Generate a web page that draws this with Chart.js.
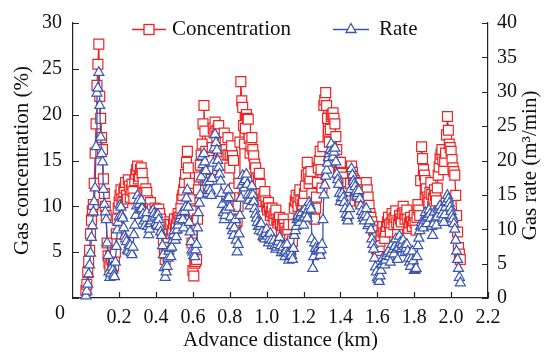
<!DOCTYPE html>
<html>
<head>
<meta charset="utf-8">
<script src="https://cdn.jsdelivr.net/npm/chart.js@4.4.1/dist/chart.umd.min.js"></script>
<style>
  html, body { margin: 0; padding: 0; background: #fff; }
  #wrap { width: 549px; height: 353px; }
</style>
</head>
<body>
<div id="wrap"><canvas id="gasChart" width="549" height="353"></canvas></div>
<script>
// Advance distance (km), main readings
const distance = [
  0.02, 0.03, 0.04, 0.05, 0.06, 0.07, 0.08, 0.09, 0.10, 0.11,
  0.12, 0.13, 0.14, 0.15, 0.16, 0.17, 0.18, 0.19, 0.20, 0.21,
  0.22, 0.23, 0.24, 0.25, 0.26, 0.27, 0.28, 0.29, 0.30, 0.31,
  0.32, 0.33, 0.34, 0.35, 0.36, 0.37, 0.38, 0.39, 0.40, 0.41,
  0.42, 0.43, 0.44, 0.45, 0.46, 0.47, 0.48, 0.49, 0.50, 0.51,
  0.52, 0.53, 0.54, 0.55, 0.56, 0.57, 0.58, 0.59, 0.60, 0.61,
  0.62, 0.63, 0.64, 0.65, 0.66, 0.67, 0.68, 0.69, 0.70, 0.71,
  0.72, 0.73, 0.74, 0.75, 0.76, 0.77, 0.78, 0.79, 0.80, 0.81,
  0.82, 0.83, 0.84, 0.85, 0.86, 0.87, 0.88, 0.89, 0.90, 0.91,
  0.92, 0.93, 0.94, 0.95, 0.96, 0.97, 0.98, 0.99, 1.00, 1.01,
  1.02, 1.03, 1.04, 1.05, 1.06, 1.07, 1.08, 1.09, 1.10, 1.11,
  1.12, 1.13, 1.14, 1.15, 1.16, 1.17, 1.18, 1.19, 1.20, 1.21,
  1.22, 1.23, 1.24, 1.25, 1.26, 1.27, 1.28, 1.29, 1.30, 1.31,
  1.32, 1.33, 1.34, 1.35, 1.36, 1.37, 1.38, 1.39, 1.40, 1.41,
  1.42, 1.43, 1.44, 1.45, 1.46, 1.47, 1.48, 1.49, 1.50, 1.51,
  1.52, 1.53, 1.54, 1.55, 1.56, 1.57, 1.58, 1.59, 1.60, 1.61,
  1.62, 1.63, 1.64, 1.65, 1.66, 1.67, 1.68, 1.69, 1.70, 1.71,
  1.72, 1.73, 1.74, 1.75, 1.76, 1.77, 1.78, 1.79, 1.80, 1.81,
  1.82, 1.83, 1.84, 1.85, 1.86, 1.87, 1.88, 1.89, 1.90, 1.91,
  1.92, 1.93, 1.94, 1.95, 1.96, 1.97, 1.98, 1.99, 2.00, 2.01,
  2.02, 2.03, 2.04, 2.05
];

// Gas concentration (%)
const concentration = [
  0.8, 2.8, 5.2, 8.5, 10.2, 15.8, 23.2, 27.7, 19.6, 16.2,
  11.4, 9.0, 4.6, 3.4, 4.2, 3.5, 5.0, 8.6, 10.5, 11.8,
  10.4, 12.0, 11.2, 12.9, 11.0, 12.4, 10.9, 13.5, 14.4, 13.3,
  14.2, 12.6, 10.7, 11.5, 9.9, 10.4, 9.7, 8.4, 9.5, 8.6,
  9.2, 8.0, 6.4, 4.2, 5.5, 7.5, 8.0, 7.4, 8.6, 8.0,
  9.2, 8.5, 10.8, 11.8, 13.5, 16.0, 12.5, 9.5, 3.0, 3.8,
  4.2, 11.8, 14.5, 16.8, 21.0, 16.0, 13.2, 15.4, 14.0, 18.5,
  19.2, 17.6, 18.8, 17.2, 16.5, 18.0, 16.2, 17.5, 14.2, 16.6,
  15.0, 9.7, 8.4, 12.5, 23.6, 20.8, 16.8, 20.0, 19.5, 15.8,
  17.5, 15.5, 14.2, 12.0, 13.6, 11.4, 10.5, 11.6, 10.0, 10.4,
  9.0, 9.8, 8.5, 9.6, 8.2, 8.8, 7.2, 8.6, 7.6, 6.9,
  8.0, 5.2, 6.2, 9.8, 11.2, 10.0, 11.8, 9.7, 10.6, 12.2,
  14.8, 12.5, 13.8, 9.0, 8.6, 11.0, 14.2, 16.0, 12.0, 21.0,
  22.4, 19.6, 17.0, 19.8, 20.2, 19.0, 16.2, 13.6, 14.8, 12.6,
  13.2, 11.8, 12.5, 10.6, 14.4, 13.0, 12.6, 11.2, 12.5, 10.4,
  11.8, 9.4, 12.6, 11.0, 9.2, 8.3, 7.4, 6.0, 4.8, 5.6,
  6.8, 7.8, 6.5, 7.8, 8.8, 7.2, 9.2, 8.0, 9.5, 7.0,
  9.0, 8.3, 10.0, 8.6, 9.6, 7.6, 8.8, 7.8, 9.0, 7.4,
  10.2, 9.0, 16.5, 14.0, 12.8, 11.0, 10.4, 12.6, 10.0, 11.8,
  10.6, 13.4, 15.2, 16.2, 14.0, 15.8, 19.8, 16.8, 16.0, 14.2,
  13.4, 9.0, 5.5, 4.2
];

// Gas rate (m3/min)
const rate = [
  0.3, 2.0, 4.8, 8.8, 12.5, 16.0, 29.8, 32.8, 23.4, 19.8,
  13.6, 11.4, 6.2, 3.0, 4.5, 3.3, 5.2, 9.9, 11.8, 13.2,
  11.6, 9.0, 8.2, 6.8, 7.6, 6.3, 9.2, 12.0, 14.9, 13.6,
  14.2, 12.2, 10.5, 12.4, 9.2, 10.8, 11.6, 12.3, 11.0, 12.1,
  10.4, 9.1, 6.3, 3.0, 4.6, 6.8, 6.0, 8.4, 9.8, 8.9,
  10.6, 11.5, 12.4, 10.2, 13.2, 15.7, 11.0, 8.2, 6.7, 6.0,
  7.8, 12.4, 15.0, 20.6, 21.0, 18.5, 15.2, 16.9, 14.9, 19.6,
  23.8, 21.5, 19.0, 17.0, 13.6, 11.4, 12.8, 15.7, 13.2, 10.5,
  9.1, 11.4, 6.7, 9.3, 14.5, 17.8, 16.0, 18.0, 15.0, 13.4,
  16.3, 14.0, 12.2, 11.0, 9.8, 10.8, 9.0, 8.6, 10.0, 8.0,
  9.4, 7.6, 8.4, 7.1, 7.8, 8.8, 6.6, 7.4, 6.0, 7.8,
  5.5, 6.8, 5.6, 9.1, 10.4, 12.0, 11.0, 12.4, 10.6, 13.0,
  11.6, 13.9, 12.9, 4.3, 8.0, 6.8, 7.2, 6.2, 7.8, 15.0,
  17.7, 19.6, 21.0, 22.4, 20.5, 21.8, 18.0, 16.5, 14.0, 15.2,
  13.9, 12.2, 11.2, 13.0, 18.8, 17.0, 16.2, 14.8, 15.6, 13.4,
  12.0, 11.2, 13.0, 10.5, 11.2, 8.6, 7.1, 4.5, 3.0, 2.4,
  4.0, 5.8, 4.8, 6.2, 6.8, 5.2, 7.8, 6.4, 8.6, 5.6,
  9.0, 7.2, 8.4, 6.6, 7.8, 5.8, 4.6, 6.8, 4.0, 4.3,
  7.6, 9.8, 11.0, 10.2, 12.4, 10.8, 12.8, 11.6, 9.1, 12.5,
  10.6, 12.9, 13.4, 12.2, 11.0, 13.2, 14.9, 13.8, 12.6, 11.5,
  10.0, 6.8, 4.3, 2.2
];

// readings taken between the main ones
const distanceMid = [
  0.025, 0.035, 0.045, 0.055, 0.065, 0.075, 0.085, 0.095, 0.105, 0.115,
  0.125, 0.135, 0.145, 0.155, 0.165, 0.175, 0.185, 0.195, 0.205, 0.215,
  0.225, 0.235, 0.245, 0.255, 0.265, 0.275, 0.285, 0.295, 0.305, 0.315,
  0.325, 0.335, 0.345, 0.355, 0.365, 0.375, 0.385, 0.395, 0.405, 0.415,
  0.425, 0.435, 0.445, 0.455, 0.465, 0.475, 0.485, 0.495, 0.505, 0.515,
  0.525, 0.535, 0.545, 0.555, 0.565, 0.575, 0.585, 0.595, 0.605, 0.615,
  0.625, 0.635, 0.645, 0.655, 0.665, 0.675, 0.685, 0.695, 0.705, 0.715,
  0.725, 0.735, 0.745, 0.755, 0.765, 0.775, 0.785, 0.795, 0.805, 0.815,
  0.825, 0.835, 0.845, 0.855, 0.865, 0.875, 0.885, 0.895, 0.905, 0.915,
  0.925, 0.935, 0.945, 0.955, 0.965, 0.975, 0.985, 0.995, 1.005, 1.015,
  1.025, 1.035, 1.045, 1.055, 1.065, 1.075, 1.085, 1.095, 1.105, 1.115,
  1.125, 1.135, 1.145, 1.155, 1.165, 1.175, 1.185, 1.195, 1.205, 1.215,
  1.225, 1.235, 1.245, 1.255, 1.265, 1.275, 1.285, 1.295, 1.305, 1.315,
  1.325, 1.335, 1.345, 1.355, 1.365, 1.375, 1.385, 1.395, 1.405, 1.415,
  1.425, 1.435, 1.445, 1.455, 1.465, 1.475, 1.485, 1.495, 1.505, 1.515,
  1.525, 1.535, 1.545, 1.555, 1.565, 1.575, 1.585, 1.595, 1.605, 1.615,
  1.625, 1.635, 1.645, 1.655, 1.665, 1.675, 1.685, 1.695, 1.705, 1.715,
  1.725, 1.735, 1.745, 1.755, 1.765, 1.775, 1.785, 1.795, 1.805, 1.815,
  1.825, 1.835, 1.845, 1.855, 1.865, 1.875, 1.885, 1.895, 1.905, 1.915,
  1.925, 1.935, 1.945, 1.955, 1.965, 1.975, 1.985, 1.995, 2.005, 2.015,
  2.025, 2.035, 2.045
];

const concentrationMid = [
  1.5, 4.0, 7.0, 9.5, 12.5, 19.0, 25.5, 22.0, 17.5, 13.0,
  10.0, 6.0, 3.8, 4.6, 3.3, 4.4, 7.0, 9.8, 11.2, 10.8,
  11.6, 12.6, 10.8, 12.2, 11.8, 11.6, 12.8, 14.0, 13.0, 14.0,
  13.6, 11.4, 11.9, 10.6, 10.0, 9.4, 9.0, 9.8, 8.2, 9.7,
  8.6, 7.2, 5.2, 4.8, 6.6, 8.3, 7.0, 8.1, 7.6, 8.7,
  8.8, 9.8, 11.2, 12.6, 14.8, 14.2, 10.8, 6.0, 2.4, 4.0,
  8.6, 13.2, 15.6, 19.0, 18.2, 14.6, 14.2, 15.0, 16.4, 18.0,
  18.2, 18.4, 17.9, 16.0, 17.4, 17.0, 15.6, 15.6, 15.6, 15.5,
  12.0, 8.2, 10.0, 17.0, 21.5, 18.8, 18.5, 19.6, 17.4, 16.6,
  16.2, 14.6, 13.0, 12.8, 12.4, 10.8, 11.2, 10.6, 9.6, 9.8,
  9.4, 8.9, 9.2, 8.6, 8.5, 8.0, 7.9, 8.0, 7.2, 7.4,
  6.4, 5.8, 8.0, 10.6, 10.4, 11.0, 10.6, 10.2, 11.4, 13.4,
  13.6, 13.0, 11.4, 8.8, 9.8, 12.6, 15.0, 14.0, 16.5, 21.6,
  21.0, 18.2, 18.4, 20.0, 19.6, 17.6, 14.8, 14.2, 13.6, 12.9,
  12.5, 12.1, 11.6, 12.5, 13.7, 12.8, 11.9, 11.8, 11.4, 11.1,
  10.6, 11.0, 11.8, 10.1, 8.8, 7.8, 6.7, 5.4, 5.2, 6.2,
  7.3, 7.1, 7.2, 8.3, 8.0, 8.2, 8.6, 8.8, 8.2, 8.0,
  8.6, 9.2, 9.3, 9.1, 8.6, 8.2, 8.3, 8.4, 8.2, 8.8,
  9.6, 12.8, 15.2, 13.4, 11.9, 10.7, 11.5, 11.3, 10.9, 11.2,
  12.0, 14.3, 15.7, 15.1, 14.9, 17.8, 18.3, 16.4, 15.1, 13.8,
  11.2, 7.2, 4.8
];

const rateMid = [
  1.0, 3.5, 6.5, 10.5, 14.0, 22.0, 30.5, 28.0, 21.0, 15.8,
  12.5, 8.0, 3.8, 3.6, 4.0, 3.1, 7.5, 11.0, 13.5, 12.0,
  10.2, 8.6, 7.0, 7.8, 6.6, 7.4, 10.6, 13.4, 14.2, 12.8,
  13.0, 11.2, 11.6, 10.4, 10.0, 11.2, 12.8, 11.8, 10.6, 11.4,
  9.6, 7.6, 4.4, 3.8, 5.8, 7.2, 7.4, 9.2, 8.4, 9.9,
  11.2, 12.0, 11.4, 12.6, 14.5, 13.2, 9.6, 7.0, 6.2, 7.0,
  10.2, 13.8, 17.6, 19.4, 19.8, 16.8, 16.0, 15.6, 17.4, 21.8,
  22.6, 20.0, 18.0, 15.2, 12.4, 12.0, 14.4, 14.6, 11.8, 9.8,
  10.2, 8.4, 7.8, 12.0, 16.4, 16.9, 17.2, 16.5, 14.2, 15.0,
  15.0, 13.0, 11.6, 10.4, 10.4, 9.6, 8.8, 9.4, 9.0, 8.6,
  8.4, 8.0, 7.6, 7.4, 8.2, 7.6, 7.0, 6.6, 6.8, 6.5,
  6.0, 6.2, 7.2, 9.8, 11.4, 11.6, 11.8, 11.6, 11.8, 12.2,
  12.8, 13.4, 8.6, 6.0, 7.2, 7.0, 6.8, 7.0, 11.4, 16.4,
  18.6, 20.4, 21.6, 21.4, 21.2, 19.8, 17.2, 15.2, 14.6, 14.6,
  13.0, 11.7, 12.0, 15.8, 17.9, 16.6, 15.5, 15.2, 14.4, 12.6,
  11.6, 12.1, 11.8, 10.8, 9.9, 7.8, 5.8, 3.8, 2.7, 3.2,
  4.9, 5.3, 5.5, 6.5, 6.0, 6.5, 7.1, 7.5, 7.1, 7.3,
  8.1, 7.8, 7.5, 7.2, 6.8, 5.2, 5.7, 5.4, 4.1, 6.0,
  8.7, 10.4, 10.6, 11.3, 11.6, 11.8, 12.2, 10.4, 10.8, 11.6,
  11.8, 13.2, 12.8, 11.6, 12.1, 14.0, 14.4, 13.2, 12.0, 10.8,
  8.4, 5.6, 3.0
];

const xTicks = [0.2, 0.4, 0.6, 0.8, 1.0, 1.2, 1.4, 1.6, 1.8, 2.0, 2.2];
const leftTicks = [0, 5, 10, 15, 20, 25, 30];
const rightTicks = [0, 5, 10, 15, 20, 25, 30, 35, 40];

const RED = '#ee2424';
const BLUE = '#3b55b0';
const INK = '#111';
const FONT = '"Liberation Serif", "Times New Roman", serif';

// merge main and in-between readings into one x-sorted series
function buildSeries(xs, ys, xsMid, ysMid) {
  const pts = xs.map((d, i) => ({ x: d, y: ys[i] }))
    .concat(xsMid.map((d, i) => ({ x: d, y: ysMid[i] })));
  return pts.sort((a, b) => a.x - b.x);
}

// inward tick marks, shared "0" at the corner, custom legend, right title
const decor = {
  id: 'decor',
  afterDraw(chart) {
    const { ctx, chartArea: a, scales } = chart;
    ctx.save();
    ctx.strokeStyle = '#222';
    ctx.lineWidth = 1.2;
    ctx.beginPath();
    xTicks.forEach(v => {
      const px = Math.round(scales.x.getPixelForValue(v)) + 0.5;
      ctx.moveTo(px, a.bottom); ctx.lineTo(px, a.bottom - 6);
    });
    leftTicks.forEach(v => {
      const py = Math.round(scales.y.getPixelForValue(v)) + 0.5;
      ctx.moveTo(a.left, py); ctx.lineTo(a.left + 6, py);
    });
    rightTicks.forEach(v => {
      const py = Math.round(scales.y1.getPixelForValue(v)) + 0.5;
      ctx.moveTo(a.right, py); ctx.lineTo(a.right - 6, py);
    });
    ctx.stroke();

    ctx.fillStyle = INK;
    ctx.font = '20px ' + FONT;
    ctx.textAlign = 'center';
    ctx.textBaseline = 'middle';
    ctx.fillText('0', a.left - 13, a.bottom + 16);

    // legend
    ctx.lineWidth = 1.3;
    ctx.strokeStyle = RED;
    ctx.beginPath(); ctx.moveTo(132, 29.5); ctx.lineTo(166, 29.5); ctx.stroke();
    ctx.fillStyle = '#fff';
    ctx.fillRect(144, 24.5, 10, 10);
    ctx.strokeRect(144, 24.5, 10, 10);
    ctx.strokeStyle = BLUE;
    ctx.beginPath(); ctx.moveTo(333, 29.5); ctx.lineTo(369, 29.5); ctx.stroke();
    ctx.beginPath();
    ctx.moveTo(351, 23.5); ctx.lineTo(356, 32.5); ctx.lineTo(346, 32.5); ctx.closePath();
    ctx.fill(); ctx.stroke();

    ctx.fillStyle = INK;
    ctx.font = '21px ' + FONT;
    ctx.textAlign = 'left';
    ctx.fillText('Concentration', 172, 29);
    ctx.fillText('Rate', 379, 29);

    // right axis title, reading bottom to top
    ctx.translate(530, (a.top + a.bottom) / 2 + 5);
    ctx.rotate(-Math.PI / 2);
    ctx.textAlign = 'center';
    ctx.fillText('Gas rate (m\u00B3/min)', 0, 0);
    ctx.restore();
  }
};

const ctx = document.getElementById('gasChart').getContext('2d');
new Chart(ctx, {
  type: 'line',
  data: {
    datasets: [
      {
        label: 'Concentration',
        data: buildSeries(distance, concentration, distanceMid, concentrationMid),
        yAxisID: 'y',
        borderColor: RED,
        borderWidth: 1.3,
        pointStyle: 'rect',
        pointRadius: 7,
        pointBorderWidth: 1.2,
        pointBorderColor: RED,
        pointBackgroundColor: '#fff',
        tension: 0,
        clip: false,
        order: 2
      },
      {
        label: 'Rate',
        data: buildSeries(distance, rate, distanceMid, rateMid),
        yAxisID: 'y1',
        borderColor: BLUE,
        borderWidth: 1.3,
        pointStyle: 'triangle',
        pointRadius: 5.8,
        pointBorderWidth: 1.2,
        pointBorderColor: BLUE,
        pointBackgroundColor: '#fff',
        tension: 0,
        clip: false,
        order: 1
      }
    ]
  },
  options: {
    responsive: false,
    animation: false,
    layout: { padding: { top: 17, left: 0, right: 0, bottom: 0 } },
    plugins: { legend: { display: false }, tooltip: { enabled: false } },
    scales: {
      x: {
        type: 'linear',
        min: -0.05,
        max: 2.2,
        afterBuildTicks: s => { s.ticks = xTicks.map(v => ({ value: v })); },
        afterFit: s => { s.height = 55; },
        grid: { display: false, drawTicks: false },
        border: { display: true, color: '#222', width: 1.2 },
        ticks: {
          padding: 8, color: INK, maxRotation: 0, autoSkip: false,
          font: { family: FONT, size: 20 },
          callback: v => v.toFixed(1)
        },
        title: {
          display: true, text: 'Advance distance (km)', color: INK,
          font: { family: FONT, size: 21 }, padding: { top: 0, bottom: 0 }
        }
      },
      y: {
        position: 'left',
        min: 0,
        max: 30,
        afterBuildTicks: s => { s.ticks = leftTicks.map(v => ({ value: v })); },
        afterFit: s => { s.width = 73; },
        grid: { display: false, drawTicks: false },
        border: { display: true, color: '#222', width: 1.2 },
        ticks: {
          padding: 11, color: INK,
          font: { family: FONT, size: 20 },
          callback: v => (v === 0 ? '' : String(v))
        },
        title: {
          display: true, text: 'Gas concentration (%)', color: INK,
          font: { family: FONT, size: 21 }, padding: { top: 10, bottom: 0 }
        }
      },
      y1: {
        position: 'right',
        min: 0,
        max: 40,
        afterBuildTicks: s => { s.ticks = rightTicks.map(v => ({ value: v })); },
        afterFit: s => { s.width = 61; },
        grid: { display: false, drawTicks: false },
        border: { display: true, color: '#222', width: 1.2 },
        ticks: {
          padding: 9, color: INK,
          font: { family: FONT, size: 20 },
          callback: v => String(v)
        }
      }
    }
  },
  plugins: [decor]
});
</script>
</body>
</html>
